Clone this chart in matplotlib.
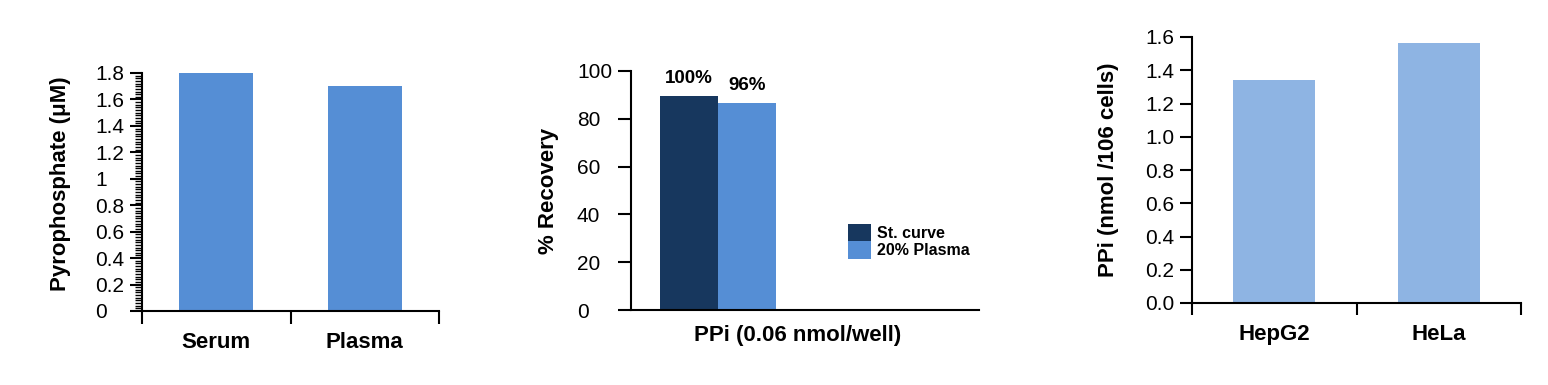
import matplotlib
matplotlib.use("Agg")
import matplotlib.pyplot as plt
from matplotlib.patches import Patch
from matplotlib.ticker import MultipleLocator, FixedLocator

plt.rcParams['font.family'] = ['Liberation Sans', 'DejaVu Sans']

# Dados
sample_types = ["Serum", "Plasma"]
sample_ppi = [1.80, 1.70]

recovery_groups = ["St. curve", "20% Plasma"]
recovery_values = [89.5, 86.6]
recovery_labels = ["100%", "96%"]

cell_lines = ["HepG2", "HeLa"]
cell_ppi = [1.34, 1.565]

MID_BLUE = "#558ED5"
NAVY = "#17375E"
LIGHT_BLUE = "#8EB4E3"

W, H = 1548, 385
fig = plt.figure(figsize=(W / 100, H / 100), dpi=100)


def px_axes(left, right, top, bottom):
    return fig.add_axes([left / W, 1 - bottom / H, (right - left) / W, (bottom - top) / H])


def style_axes(ax, tick_len, pad):
    for side in ("top", "right"):
        ax.spines[side].set_visible(False)
    for side in ("left", "bottom"):
        ax.spines[side].set_linewidth(1.5)
        ax.spines[side].set_color("black")
    ax.tick_params(axis="y", which="major", direction="out", length=tick_len, width=1.5,
                   labelsize=15, pad=pad)
    for lab in ax.get_yticklabels():
        lab.set_horizontalalignment("left")


def category_axis(ax, labels):
    # traços nos limites das categorias, rótulos no centro
    ax.set_xlim(-0.5, len(labels) - 0.5)
    ax.xaxis.set_major_locator(FixedLocator([i - 0.5 for i in range(len(labels) + 1)]))
    ax.xaxis.set_major_formatter(plt.NullFormatter())
    ax.xaxis.set_minor_locator(FixedLocator(list(range(len(labels)))))
    ax.set_xticklabels(labels, minor=True, fontsize=16, fontweight="bold")
    ax.tick_params(axis="x", which="major", direction="out", length=9.5, width=1.5)
    ax.tick_params(axis="x", which="minor", length=0, pad=15)


# Painel 1: soro e plasma
ax1 = px_axes(142, 439, 73, 311)
ax1.bar(range(len(sample_types)), sample_ppi, width=0.5, color=MID_BLUE)
ax1.set_ylim(0, 1.8)
ax1.yaxis.set_major_locator(MultipleLocator(0.2))
ax1.yaxis.set_minor_locator(MultipleLocator(0.02))
ax1.set_yticks([0, 0.2, 0.4, 0.6, 0.8, 1.0, 1.2, 1.4, 1.6, 1.8],
               ["0", "0.2", "0.4", "0.6", "0.8", "1", "1.2", "1.4", "1.6", "1.8"])
style_axes(ax1, 8.6, 25)
ax1.tick_params(axis="y", which="minor", direction="out", length=5, width=1.0)
category_axis(ax1, sample_types)
ax1.set_ylabel("Pyrophosphate (μM)", fontsize=16, fontweight="bold", va="center")
ax1.yaxis.set_label_coords(-0.276, 0.534)

# Painel 2: recuperação
ax2 = px_axes(631, 979, 71, 310)
positions = [1.0, 2.0]
colors = [NAVY, MID_BLUE]
bars = ax2.bar(positions, recovery_values, width=1.0, color=colors)
for b, txt in zip(bars, recovery_labels):
    ax2.annotate(txt, (b.get_x() + b.get_width() / 2, b.get_height()),
                 xytext=(0, 9.5), textcoords="offset points", ha="center", va="baseline",
                 fontsize=13.5, fontweight="bold")
ax2.set_xlim(0, 6)
ax2.set_ylim(0, 100)
ax2.set_yticks([0, 20, 40, 60, 80, 100])
style_axes(ax2, 9.4, 29.5)
ax2.set_xticks([])
ax2.set_ylabel("% Recovery", fontsize=16, fontweight="bold", va="center")
ax2.yaxis.set_label_coords(-0.2385, 0.5)
ax2.set_xlabel("PPi (0.06 nmol/well)", fontsize=16, fontweight="bold", va="top")
ax2.xaxis.set_label_coords(0.48, -15 / 239)
handles = [Patch(facecolor=c, edgecolor="none") for c in colors]
fig.legend(handles, recovery_groups, loc="upper left",
           bbox_to_anchor=(848 / W, 1 - 224 / H), bbox_transform=fig.transFigure,
           frameon=False, borderpad=0, borderaxespad=0, labelspacing=0,
           handlelength=1.45, handleheight=1.3, handletextpad=0.35,
           prop={"size": 11.5, "weight": "bold"})

# Painel 3: linhagens celulares
ax3 = px_axes(1192, 1521, 37, 303)
ax3.bar(range(len(cell_lines)), cell_ppi, width=0.5, color=LIGHT_BLUE)
ax3.set_ylim(0, 1.6)
ax3.set_yticks([0, 0.2, 0.4, 0.6, 0.8, 1.0, 1.2, 1.4, 1.6],
               ["0.0", "0.2", "0.4", "0.6", "0.8", "1.0", "1.2", "1.4", "1.6"])
style_axes(ax3, 8.6, 25)
category_axis(ax3, cell_lines)
ax3.tick_params(axis="x", which="major", length=8.6)
ax3.set_ylabel("PPi (nmol /106 cells)", fontsize=16, fontweight="bold", va="center")
ax3.yaxis.set_label_coords(-0.255, 0.5)

fig.savefig("out.png", dpi=100)
